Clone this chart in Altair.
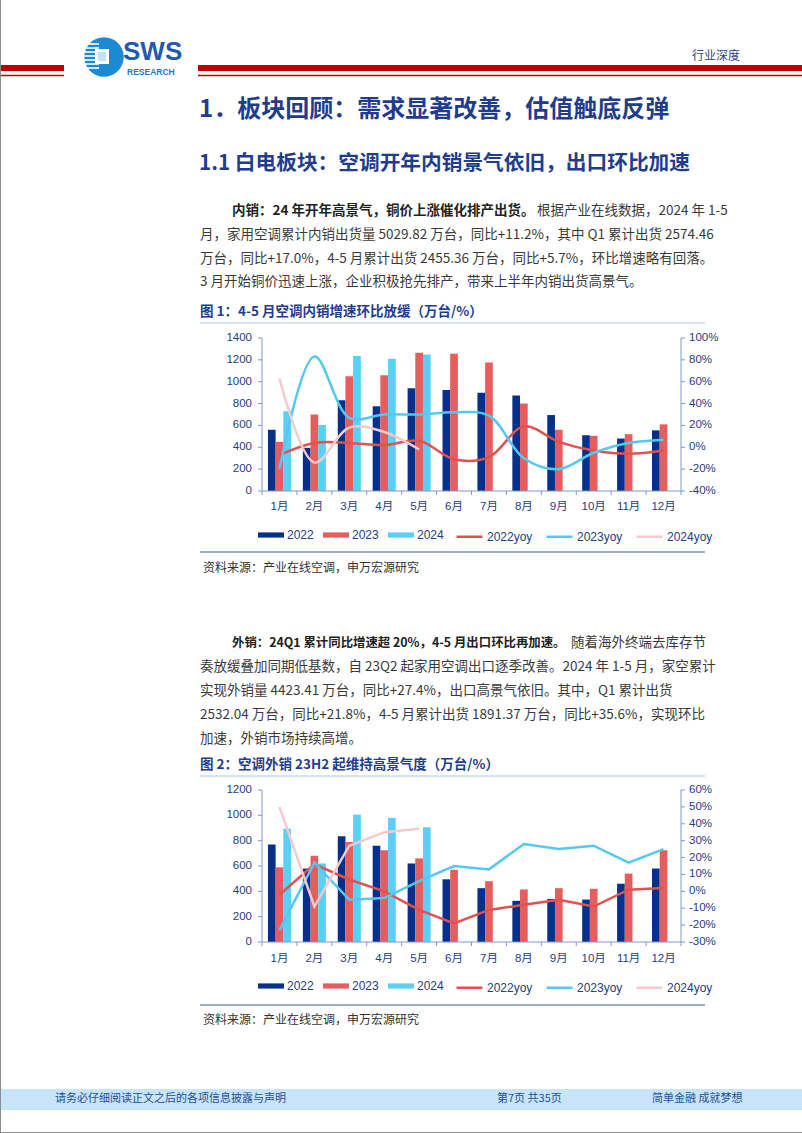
import altair as alt
import pandas as pd

# ---------------- data ----------------
months = ["1月", "2月", "3月", "4月", "5月", "6月", "7月", "8月", "9月", "10月", "11月", "12月"]
bar_series = ["2022", "2023", "2024"]
line_series = ["2022yoy", "2023yoy", "2024yoy"]

# Figure 1: domestic sales (万台) and yoy (%)
dom_2022 = [560, 395, 830, 775, 940, 925, 900, 875, 695, 510, 480, 555]
dom_2023 = [450, 700, 1050, 1060, 1265, 1255, 1175, 800, 560, 505, 520, 610]
dom_2024 = [730, 605, 1235, 1210, 1250]
dom_2022yoy = [-7, 4, 4, 2, 6, -11, -9, 19, 5, -3, -6, -3]
dom_2023yoy = [-20, 83, 27, 30, 30, 32, 29, -10, -20, -5, 4, 7]
dom_2024yoy = [63, -14, 18, 14, -2]

# Figure 2: export sales (万台) and yoy (%)
exp_2022 = [770, 580, 835, 760, 620, 495, 425, 325, 340, 335, 460, 580]
exp_2023 = [590, 680, 790, 725, 660, 570, 480, 415, 425, 420, 540, 725]
exp_2024 = [895, 620, 1005, 980, 905]
exp_2022yoy = [-2, 16, 7, 0, -11, -19, -11, -8, -5, -9, 1, 2]
exp_2023yoy = [-23, 17, -5, -4, 6, 15, 13, 28, 25, 27, 17, 25]
exp_2024yoy = [50, -9, 27, 35, 37]

c1_left_ticks = [0, 200, 400, 600, 800, 1000, 1200, 1400]
c1_right_ticks = [-40, -20, 0, 20, 40, 60, 80, 100]
c2_left_ticks = [0, 200, 400, 600, 800, 1000, 1200]
c2_right_ticks = [-30, -20, -10, 0, 10, 20, 30, 40, 50, 60]

# ---------------- styles ----------------
BAR_COLORS = ["#06308C", "#E75C5C", "#5CCFF7"]
LINE_COLORS = ["#E2514F", "#55C8F0", "#F6C9CB"]
AXIS_TXT = "#24407F"
AXIS_LINE = "#7F97D6"
CHART_FONT = "Liberation Sans, Noto Sans CJK SC"
CJK = "Noto Sans CJK SC"
HEAD = "#1F3D8C"
BODY = "#3A3A3A"
X0, X1 = 262, 681


def bars_df(vals_list):
    rows = []
    for s, vals in zip(bar_series, vals_list):
        for m, v in zip(months, vals):
            rows.append({"month": m, "series": s, "value": v, "base": 0})
    return pd.DataFrame(rows)


def lines_df(vals_list):
    rows = []
    for s, vals in zip(line_series, vals_list):
        for i, (m, v) in enumerate(zip(months, vals)):
            rows.append({"month": m, "series": s, "value": v, "idx": i})
    return pd.DataFrame(rows)


def chart_block(bdf, ldf, ldom, rdom, lticks, rticks, ybot, ytop, xlab_y, leg_y, interp):
    xs = alt.Scale(domain=months, range=[X0, X1], paddingInner=0.34, paddingOuter=0.17)
    ysl = alt.Scale(domain=ldom, range=[ybot, ytop], nice=False)
    ysr = alt.Scale(domain=rdom, range=[ybot, ytop], nice=False, zero=False)
    xk = alt.Scale(domain=[0, 12], range=[X0, X1], nice=False, zero=False)
    out = []
    out.append(
        alt.Chart(bdf).mark_bar().encode(
            x=alt.X("month:N", sort=months, scale=xs, axis=None),
            xOffset=alt.XOffset("series:N", sort=bar_series,
                                scale=alt.Scale(domain=bar_series, paddingInner=0, paddingOuter=0)),
            y=alt.Y("value:Q", scale=ysl, axis=None),
            y2=alt.Y2("base:Q"),
            color=alt.Color("series:N", sort=bar_series,
                            scale=alt.Scale(domain=bar_series, range=BAR_COLORS),
                            legend=alt.Legend(title=None, orient="none", legendX=258, legendY=leg_y - 13,
                                              direction="horizontal", symbolType="M-1,-0.2H1V0.2H-1Z",
                                              symbolSize=676, symbolStrokeWidth=0, labelFont=CHART_FONT,
                                              labelFontSize=12, labelColor=AXIS_TXT, labelOffset=3,
                                              columnPadding=9, padding=0)),
        )
    )
    out.append(
        alt.Chart(ldf).mark_line(strokeWidth=2.5, interpolate=interp).encode(
            x=alt.X("month:N", sort=months, scale=xs, axis=None),
            y=alt.Y("value:Q", scale=ysr, axis=None),
            color=alt.Color("series:N", sort=line_series,
                            scale=alt.Scale(domain=line_series, range=LINE_COLORS),
                            legend=alt.Legend(title=None, orient="none", legendX=455, legendY=leg_y - 13,
                                              direction="horizontal", symbolType="stroke",
                                              symbolSize=676, symbolStrokeWidth=2.5, labelFont=CHART_FONT,
                                              labelFontSize=12, labelColor=AXIS_TXT, labelOffset=3,
                                              columnPadding=8, padding=0)),
            order=alt.Order("idx:Q"),
        )
    )
    # axes drawn from the same scales
    ext_l = pd.DataFrame({"lo": [ldom[0]], "hi": [ldom[1]]})
    ext_r = pd.DataFrame({"lo": [rdom[0]], "hi": [rdom[1]]})
    out.append(alt.Chart(ext_l).mark_rule(color=AXIS_LINE, strokeWidth=1).encode(
        x=alt.value(X0), y=alt.Y("lo:Q", scale=ysl, axis=None), y2="hi:Q"))
    out.append(alt.Chart(ext_r).mark_rule(color=AXIS_LINE, strokeWidth=1).encode(
        x=alt.value(X1), y=alt.Y("lo:Q", scale=ysr, axis=None), y2="hi:Q"))
    out.append(alt.Chart(ext_l).mark_rule(color=AXIS_LINE, strokeWidth=1).encode(
        x=alt.value(X0), x2=alt.value(X1), y=alt.Y("lo:Q", scale=ysl, axis=None)))
    lt = pd.DataFrame({"v": lticks})
    rt = pd.DataFrame({"v": rticks, "lab": [f"{v}%" for v in rticks]})
    out.append(alt.Chart(lt).mark_rule(color=AXIS_LINE, strokeWidth=1).encode(
        y=alt.Y("v:Q", scale=ysl, axis=None), x=alt.value(X0 - 4), x2=alt.value(X0)))
    out.append(alt.Chart(rt).mark_rule(color=AXIS_LINE, strokeWidth=1).encode(
        y=alt.Y("v:Q", scale=ysr, axis=None), x=alt.value(X1), x2=alt.value(X1 + 4)))
    out.append(alt.Chart(pd.DataFrame({"k": list(range(13))})).mark_rule(color=AXIS_LINE, strokeWidth=1).encode(
        x=alt.X("k:Q", scale=xk, axis=None), y=alt.value(ybot), y2=alt.value(ybot + 4)))
    out.append(alt.Chart(lt).mark_text(align="right", baseline="middle", font=CHART_FONT, fontSize=11.5,
                                       color=AXIS_TXT).encode(
        y=alt.Y("v:Q", scale=ysl, axis=None), x=alt.value(X0 - 10), text=alt.Text("v:Q", format="d")))
    out.append(alt.Chart(rt).mark_text(align="left", baseline="middle", font=CHART_FONT, fontSize=11.5,
                                       color=AXIS_TXT).encode(
        y=alt.Y("v:Q", scale=ysr, axis=None), x=alt.value(X1 + 8), text="lab:N"))
    out.append(alt.Chart(pd.DataFrame({"month": months})).mark_text(baseline="middle", font=CHART_FONT,
                                                                    fontSize=11.5, color=AXIS_TXT).encode(
        x=alt.X("month:N", sort=months, scale=xs, axis=None), y=alt.value(xlab_y), text="month:N"))
    return out


def txt(s, x, y, size, color, weight="normal", align="left", font=CJK):
    return alt.Chart(pd.DataFrame({"t": [s]})).mark_text(
        align=align, baseline="middle", fontSize=size, fontWeight=weight, color=color, font=font
    ).encode(text="t:N", x=alt.value(x), y=alt.value(y))


def box(x, y, x2, y2, color):
    return alt.Chart(pd.DataFrame({"a": [0]})).mark_rect(color=color).encode(
        x=alt.value(x), x2=alt.value(x2), y=alt.value(y), y2=alt.value(y2))


def hline(x, x2, y, color, w=1):
    return alt.Chart(pd.DataFrame({"a": [0]})).mark_rule(color=color, strokeWidth=w).encode(
        x=alt.value(x), x2=alt.value(x2), y=alt.value(y))


def vline(x, y, y2, color, w=1):
    return alt.Chart(pd.DataFrame({"a": [0]})).mark_rule(color=color, strokeWidth=w).encode(
        x=alt.value(x), y=alt.value(y), y2=alt.value(y2))


layers = []

# ---- header ----
RED = "#C00000"
layers += [box(0, 65, 64, 71, RED), hline(0, 64, 75.5, RED, 1.5),
           box(198, 65, 802, 71, RED), hline(198, 802, 75.5, RED, 1.5)]
# logo
layers.append(alt.Chart(pd.DataFrame({"a": [0]})).mark_point(shape="circle", filled=True, opacity=1,
                                                            color="#1B8AD3").encode(
    x=alt.value(104), y=alt.value(57), size=alt.value(1560)))
for yy in [44, 48, 52, 56, 60, 64, 68]:
    layers.append(hline(84, 99, yy, "#FFFFFF", 1.6))
layers.append(box(95, 49, 109, 64, "#FFFFFF"))
layers.append(box(98, 52, 106, 61, "#BFE3F7"))
layers.append(txt("SWS", 123, 52, 26, "#1F5AAE", "bold", font="Liberation Sans"))
layers.append(txt("RESEARCH", 127, 71.5, 8.5, "#1E7ACB", "bold", font="Liberation Sans"))
layers.append(txt("行业深度", 740, 56, 12, "#2B4680", align="right"))

# ---- headings ----
layers.append(txt("1．板块回顾：需求显著改善，估值触底反弹", 199, 110, 24, HEAD, "bold"))
layers.append(txt("1.1 白电板块：空调开年内销景气依旧，出口环比加速", 199, 164, 20.7, HEAD, "bold"))

# ---- paragraph 1 ----
FS = 13.5
layers.append(txt("内销：24 年开年高景气，铜价上涨催化排产出货。", 232, 211, FS, "#222222", "bold"))
layers.append(txt("根据产业在线数据，2024 年 1-5", 537, 211, FS, BODY))
layers.append(txt("月，家用空调累计内销出货量 5029.82 万台，同比+11.2%，其中 Q1 累计出货 2574.46", 200, 235, FS, BODY))
layers.append(txt("万台，同比+17.0%，4-5 月累计出货 2455.36 万台，同比+5.7%，环比增速略有回落。", 200, 259, FS, BODY))
layers.append(txt("3 月开始铜价迅速上涨，企业积极抢先排产，带来上半年内销出货高景气。", 200, 282, FS, BODY))

# ---- figure 1 ----
layers.append(txt("图 1：4-5 月空调内销增速环比放缓（万台/%）", 200, 312, FS, HEAD, "bold"))
layers.append(hline(200, 705, 323, "#A9C6EA", 1))
layers += chart_block(bars_df([dom_2022, dom_2023, dom_2024]),
                      lines_df([dom_2022yoy, dom_2023yoy, dom_2024yoy]),
                      [0, 1400], [-40, 100], c1_left_ticks, c1_right_ticks,
                      491, 338, 507, 535, "catmull-rom")
layers.append(hline(200, 705, 552, "#3F5C99", 1))
layers.append(txt("资料来源：产业在线空调，申万宏源研究", 203, 568, 12, "#333333"))

# ---- paragraph 2 ----
layers.append(txt("外销：24Q1 累计同比增速超 20%，4-5 月出口环比再加速。", 232, 643, 12.4, "#222222", "bold"))
layers.append(txt("随着海外终端去库存节", 706, 643, FS, BODY, align="right"))
layers.append(txt("奏放缓叠加同期低基数，自 23Q2 起家用空调出口逐季改善。2024 年 1-5 月，家空累计", 200, 667, FS, BODY))
layers.append(txt("实现外销量 4423.41 万台，同比+27.4%，出口高景气依旧。其中，Q1 累计出货", 200, 691, FS, BODY))
layers.append(txt("2532.04 万台，同比+21.8%，4-5 月累计出货 1891.37 万台，同比+35.6%，实现环比", 200, 715, FS, BODY))
layers.append(txt("加速，外销市场持续高增。", 200, 739, FS, BODY))

# ---- figure 2 ----
layers.append(txt("图 2：空调外销 23H2 起维持高景气度（万台/%）", 200, 765, FS, HEAD, "bold"))
layers.append(hline(200, 705, 776, "#A9C6EA", 1))
layers += chart_block(bars_df([exp_2022, exp_2023, exp_2024]),
                      lines_df([exp_2022yoy, exp_2023yoy, exp_2024yoy]),
                      [0, 1200], [-30, 60], c2_left_ticks, c2_right_ticks,
                      942, 790, 959, 986, "linear")
layers.append(hline(200, 705, 1005, "#3F5C99", 1))
layers.append(txt("资料来源：产业在线空调，申万宏源研究", 203, 1020, 12, "#333333"))

# ---- footer ----
layers.append(box(0, 1089, 802, 1110, "#C7E5F8"))
layers.append(txt("请务必仔细阅读正文之后的各项信息披露与声明", 55, 1099, 11, "#1F4E9A"))
layers.append(txt("第7页 共35页", 497, 1099, 11, "#1F4E9A"))
layers.append(txt("简单金融 成就梦想", 652, 1099, 11, "#1F4E9A"))

# page border
layers.append(vline(0.5, 0, 1133, "#8C8C8C", 1))
layers.append(hline(0, 802, 1132.5, "#8C8C8C", 1))

chart = alt.layer(*layers).resolve_scale(
    x="independent", y="independent", color="independent", xOffset="independent"
).resolve_legend(color="independent").properties(
    width=802, height=1133, autosize=alt.AutoSizeParams(type="none"), padding=0, background="#FFFFFF"
).configure_view(stroke=None)

chart.save("out.html", embed_options={"renderer": "svg", "actions": False})
